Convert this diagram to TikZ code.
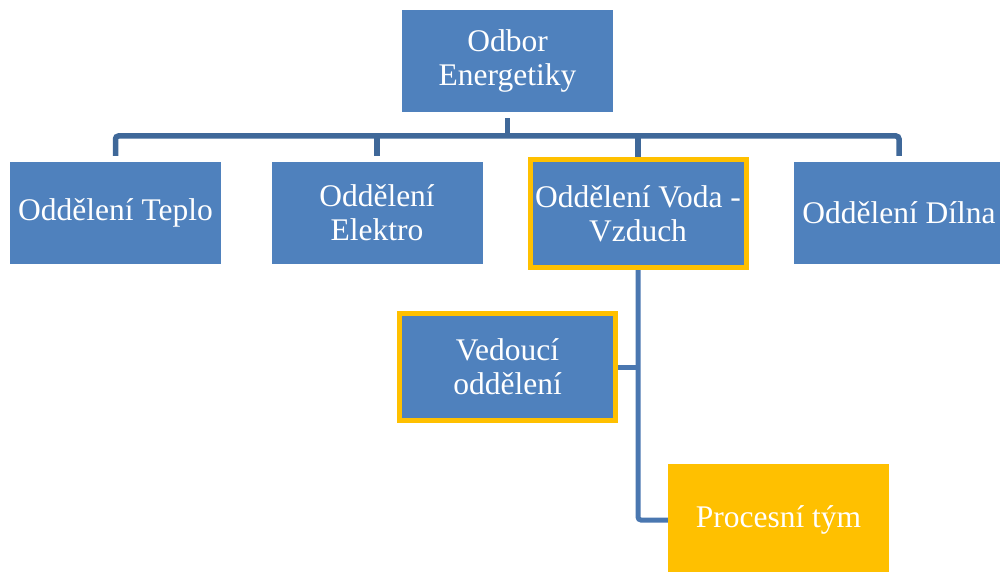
\documentclass[tikz,border=0pt]{standalone}
\usepackage{fontspec}
\setmainfont{Liberation Serif}
\usetikzlibrary{backgrounds}
\definecolor{boxblue}{HTML}{4F81BD}
\definecolor{hiyellow}{HTML}{FFC000}
\definecolor{busblue}{HTML}{3F6899}
\definecolor{linkblue}{HTML}{4A77B0}
\begin{document}
\begin{tikzpicture}[x=1pt,y=-1pt,
  box/.style={rectangle, fill=boxblue, text=white, inner sep=0pt, align=center,
    font=\fontsize{31.5}{34}\selectfont, minimum width=211pt, minimum height=102pt},
  hibox/.style={box, draw=hiyellow, line width=5pt, minimum width=216pt, minimum height=107pt},
  teambox/.style={box, fill=hiyellow, minimum width=221pt, minimum height=112pt},
  bus/.style={draw=busblue, line width=5.5pt, rounded corners=3pt},
  link/.style={draw=linkblue, line width=5pt, rounded corners=3pt}]
\useasboundingbox (0,0) rectangle (1000,572);
\clip (0,0) rectangle (1000,572);

% boxes
\node[box] (top) at (507.5,61) {Odbor\\Energetiky};
\node[box] (teplo) at (115.5,213) {Oddělení Teplo};
\node[box] (elektro) at (377,213) {Oddělení\\Elektro};
\node[hibox] (voda) at (638,213.5) {Oddělení Voda -\\Vzduch};
\node[box] (dilna) at (899,213) {Oddělení Dílna};
\node[hibox] (ved) at (507.5,367) {Vedoucí\\oddělení};
\node[teambox] (proc) at (778.5,520) {Procesní tým};

\coordinate (busmid) at (507.5,136);

% connectors
\begin{scope}[on background layer]
  \draw[bus] ([yshift=-6pt]top.south) -- (busmid);
  \draw[bus] ([yshift=6pt]teplo.north) |- (busmid) -| ([yshift=6pt]dilna.north);
  \draw[bus] ([yshift=6pt]elektro.north) -- (elektro.north |- busmid);
  \draw[bus] (voda.north |- busmid) -- (voda.north);
  \draw[link] (voda.south) |- (proc.west);
  \draw[link] (ved.east) -- (ved.east -| voda.south);
\end{scope}
\end{tikzpicture}
\end{document}
